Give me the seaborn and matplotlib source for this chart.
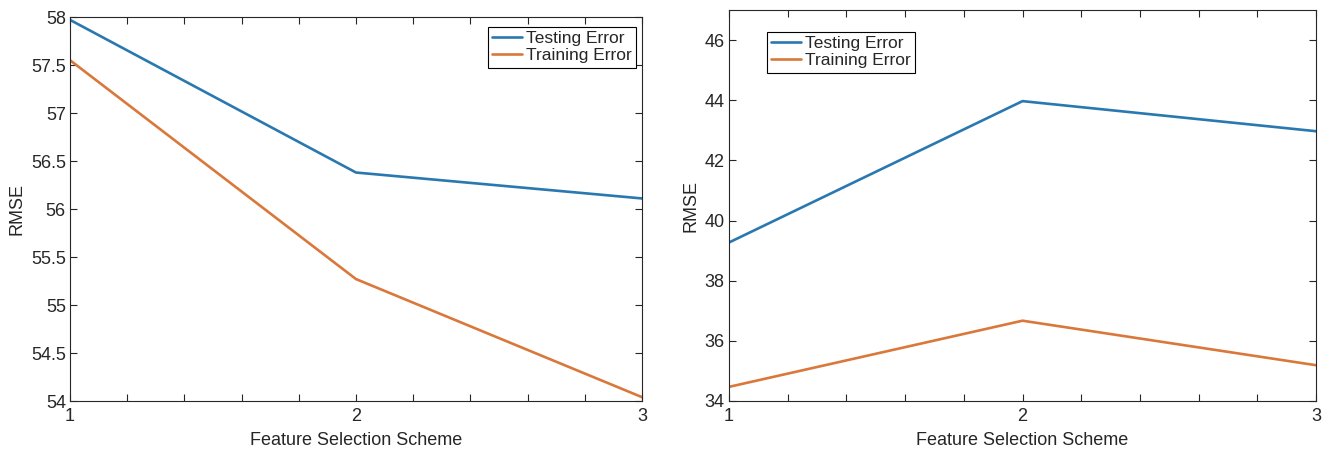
import numpy as np
import pandas as pd
import matplotlib
matplotlib.use("Agg")
import matplotlib.pyplot as plt
import seaborn as sns
from matplotlib.ticker import MultipleLocator

sns.set_theme(style="white")
plt.rcParams['font.family'] = ['Liberation Sans', 'DejaVu Sans']

schemes = [1, 2, 3]
left_testing = [57.97, 56.38, 56.11]
left_training = [57.55, 55.27, 54.04]
right_testing = [39.27, 43.97, 42.97]
right_training = [34.47, 36.67, 35.19]
series_names = ["Testing Error", "Training Error"]
colors = ["#2a78b0", "#d9783a"]

fig = plt.figure(figsize=(13.28, 4.49), dpi=100)
ax1 = fig.add_axes([70/1328, 1-401/449, (642-70)/1328, (401-17)/449])
ax2 = fig.add_axes([729/1328, 1-401/449, (1316-729)/1328, (401-10)/449])

def draw(ax, test, train, ylim, ymaj, legend_loc, bbox):
    df = pd.DataFrame({
        "scheme": schemes * 2,
        "rmse": list(test) + list(train),
        "series": [series_names[0]] * 3 + [series_names[1]] * 3,
    })
    sns.lineplot(data=df, x="scheme", y="rmse", hue="series", palette=colors,
                 linewidth=1.9, ax=ax, legend=True)
    ax.set_xlim(1, 3)
    ax.set_ylim(*ylim)
    ax.xaxis.set_major_locator(MultipleLocator(1))
    ax.xaxis.set_minor_locator(MultipleLocator(0.2))
    ax.yaxis.set_major_locator(MultipleLocator(ymaj))
    ax.tick_params(which="both", direction="in", top=True, right=True,
                   bottom=True, left=True, length=5, width=0.8, color="#262626",
                   labelsize=13, labelcolor="#262626")
    ax.tick_params(axis="x", pad=5)
    ax.tick_params(axis="y", pad=3)
    ax.set_xlabel("Feature Selection Scheme", fontsize=13, color="#262626", labelpad=5)
    ax.set_ylabel("RMSE", fontsize=13, color="#262626", labelpad=4)
    for s in ax.spines.values():
        s.set_color("#262626")
        s.set_linewidth(0.8)
    ax.yaxis.set_major_formatter(plt.FuncFormatter(lambda v, p: f"{v:g}"))
    leg = ax.legend(loc=legend_loc, bbox_to_anchor=bbox, fontsize=12.5,
                    frameon=True, fancybox=False, framealpha=1,
                    handlelength=1.7, handletextpad=0.25, borderpad=0.25,
                    labelspacing=0.12, borderaxespad=0)
    leg.get_frame().set_edgecolor("black")
    leg.get_frame().set_linewidth(0.8)

draw(ax1, left_testing, left_training, (54, 58), 0.5, "upper right", (0.99, 0.975))
draw(ax2, right_testing, right_training, (34, 47), 2, "upper left", (0.065, 0.945))

fig.savefig("out.png", dpi=100)
